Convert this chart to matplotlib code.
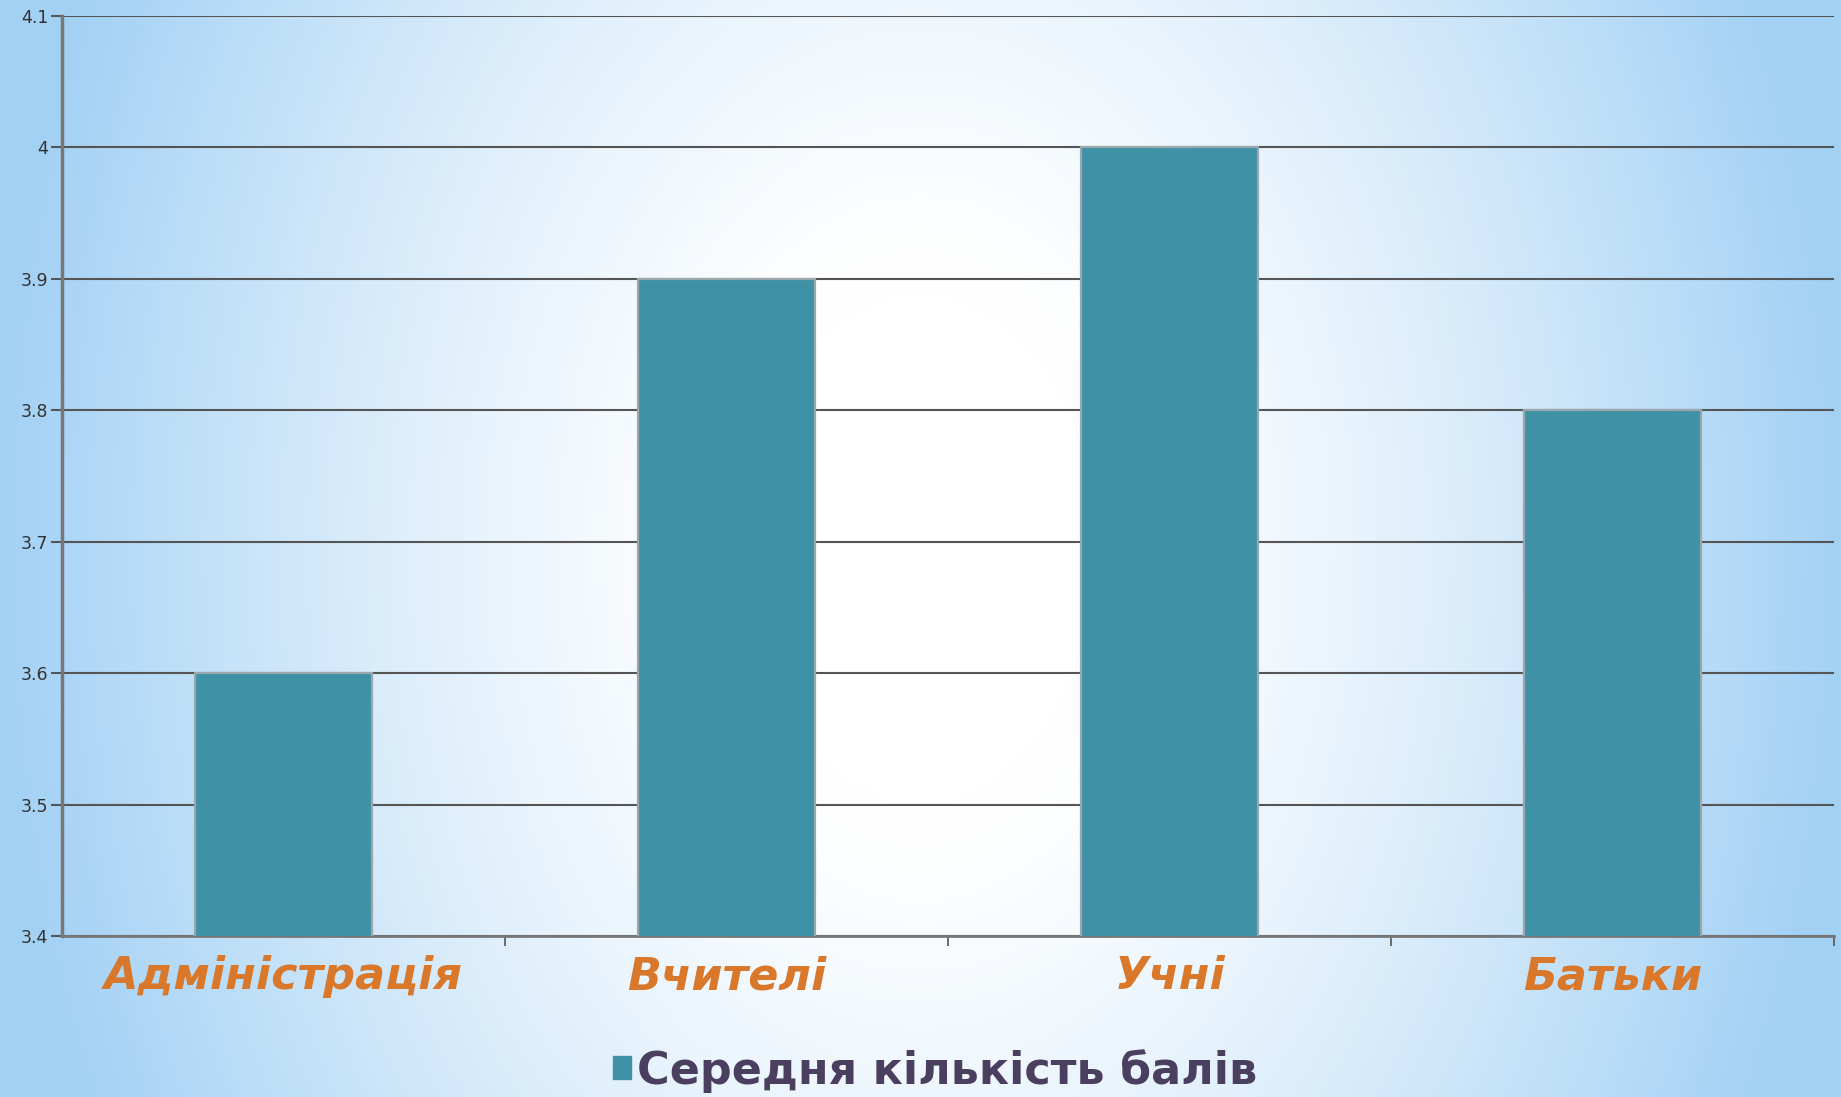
import numpy as np
import matplotlib
matplotlib.use("Agg")
from matplotlib import pyplot as plt
from matplotlib.patches import Patch
from matplotlib.ticker import FuncFormatter

# data
categories = ['Адміністрація', 'Вчителі', 'Учні', 'Батьки']
scores = [3.6, 3.9, 4.0, 3.8]
series_name = 'Середня кількість балів'

bar_color = '#3f91a6'
label_color = '#d9782a'
legend_color = '#4a3f5e'

fig = plt.figure(figsize=(18.41, 10.97), dpi=100)

# background gradient (light blue edges, white middle)
bg = fig.add_axes([0, 0, 1, 1], zorder=-10)
xx, yy = np.meshgrid(np.linspace(-1, 1, 400), np.linspace(0, 1, 240))
d = np.sqrt((xx / 1.0) ** 2 + ((yy - 0.5) / 1.2) ** 2)
t = np.clip((d - 0.2) / 0.8, 0, 1) ** 1.3
edge = np.array([0.64, 0.82, 0.96])
white = np.array([1.0, 1.0, 1.0])
img = white[None, None, :] * (1 - t[..., None]) + edge[None, None, :] * t[..., None]
bg.imshow(img, aspect='auto', extent=[0, 1, 0, 1], origin='upper', interpolation='bicubic')
bg.axis('off')

ax = fig.add_axes([0.0337, 0.1468, 0.9625, 0.8386])
ax.patch.set_alpha(0)

x = np.arange(len(categories))
ax.bar(x, scores, width=0.4, color=bar_color, edgecolor='#9aa7ad', linewidth=1.6, zorder=3)

ax.set_xlim(-0.5, len(categories) - 0.5)
ax.set_ylim(3.4, 4.1)
ax.set_yticks(np.arange(3.4, 4.11, 0.1))
ax.yaxis.set_major_formatter(FuncFormatter(lambda v, p: '%g' % round(v, 2)))
ax.grid(axis='y', color='#555555', linewidth=1.5, zorder=0)
ax.set_axisbelow(True)

ax.set_xticks(x)
ax.set_xticklabels(categories, fontsize=32, fontweight='bold', fontstyle='italic', color=label_color)
ax.tick_params(axis='x', which='major', length=0, pad=14)
ax.set_xticks(list(x[:-1] + 0.5) + [len(categories) - 0.5], minor=True)
ax.tick_params(axis='x', which='minor', length=7, width=1.2, color='#555555')
ax.tick_params(axis='y', length=8, width=1.5, color='#555555', labelsize=12.5, labelcolor='#333333', pad=2)

for s in ['top', 'right']:
    ax.spines[s].set_visible(False)
ax.spines['left'].set_color('#777777')
ax.spines['left'].set_linewidth(2.5)
ax.spines['bottom'].set_color('#777777')
ax.spines['bottom'].set_linewidth(2)

fig.legend(handles=[Patch(color=bar_color, label=series_name)], loc='center',
           bbox_to_anchor=(0.508, 0.024), frameon=False, handlelength=0.4, handleheight=0.4,
           handletextpad=0.15, prop={'size': 32, 'weight': 'bold'}, labelcolor=legend_color,
           borderpad=0)

fig.savefig('out.png', dpi=100)
